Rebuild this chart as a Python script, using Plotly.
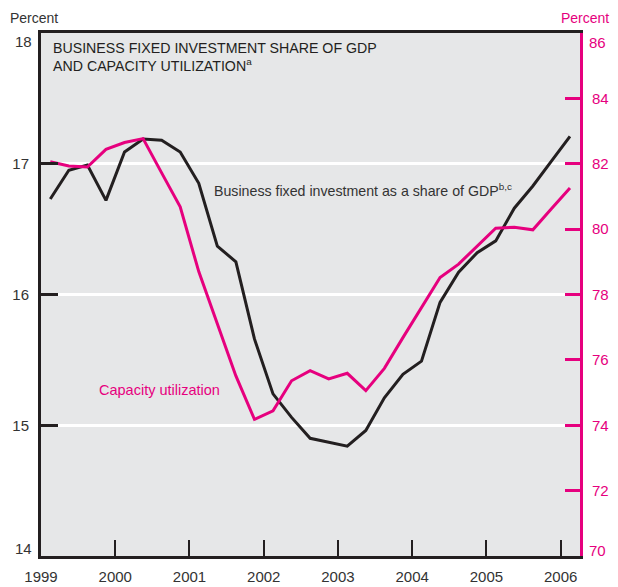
import plotly.graph_objects as go

quarters = ["1999Q1","1999Q2","1999Q3","1999Q4","2000Q1","2000Q2","2000Q3","2000Q4",
            "2001Q1","2001Q2","2001Q3","2001Q4","2002Q1","2002Q2","2002Q3","2002Q4",
            "2003Q1","2003Q2","2003Q3","2003Q4","2004Q1","2004Q2","2004Q3","2004Q4",
            "2005Q1","2005Q2","2005Q3","2005Q4","2006Q1"]
bfi_share = [16.73, 16.95, 16.99, 16.72, 17.09, 17.19, 17.18, 17.09,
             16.85, 16.37, 16.25, 15.66, 15.24, 15.06, 14.90, 14.87,
             14.84, 14.96, 15.21, 15.39, 15.49, 15.94, 16.17, 16.32,
             16.41, 16.66, 16.83, 17.02, 17.21]
capacity_util = [82.06, 81.93, 81.90, 82.44, 82.65, 82.77, 81.72, 80.68,
                 78.70, 77.08, 75.51, 74.18, 74.44, 75.36, 75.67, 75.42,
                 75.59, 75.06, 75.74, 76.68, 77.59, 78.52, 78.93, 79.49,
                 80.03, 80.06, 79.98, 80.62, 81.26]
year_ticks = [1999, 2000, 2001, 2002, 2003, 2004, 2005, 2006]
left_ticks = [14, 15, 16, 17, 18]
right_ticks = [70, 72, 74, 76, 78, 80, 82, 84, 86]

# quarter midpoints on a continuous year axis
xq = [int(q[:4]) + (int(q[-1]) - 0.5) / 4 for q in quarters]

DARK = "#231f20"
TXT = "#333333"
MAG = "#e6007e"
FONT = "Liberation Sans, Arial, sans-serif"

fig = go.Figure()
fig.add_trace(go.Scatter(x=xq, y=capacity_util, yaxis="y2", mode="lines",
                         line=dict(color=MAG, width=3), hoverinfo="skip"))
fig.add_trace(go.Scatter(x=xq, y=bfi_share, mode="lines",
                         line=dict(color=DARK, width=3), hoverinfo="skip"))

inner_left = left_ticks[1:-1]
inner_right = right_ticks[1:-1]

# page has an 8px body margin, so the figure is sized to end at the window edge
fig.update_layout(
    width=610, height=579,
    margin=dict(l=33, r=38, t=25, b=31, autoexpand=False),
    paper_bgcolor="white",
    plot_bgcolor="#e6e7e8",
    showlegend=False,
    xaxis=dict(range=[1999, 2006.26], tickvals=year_ticks,
               ticktext=[str(y) for y in year_ticks], automargin=False,
               ticks="inside", ticklen=16, tickwidth=2, tickcolor=DARK,
               showline=True, linewidth=3, linecolor=DARK, mirror=True,
               showgrid=False, zeroline=False,
               tickfont=dict(family=FONT, size=15, color=TXT),
               ticklabelstandoff=5),
    yaxis=dict(range=[14, 18], tickvals=inner_left, automargin=False,
               ticks="inside", ticklen=17, tickwidth=2.5, tickcolor=DARK,
               showline=True, linewidth=3, linecolor=DARK,
               showgrid=True, gridcolor="white", gridwidth=2.5,
               zeroline=False,
               tickfont=dict(family=FONT, size=15, color=TXT),
               ticklabelstandoff=6),
    yaxis2=dict(range=[70, 86], tickvals=inner_right, overlaying="y", side="right",
                automargin=False,
                ticks="inside", ticklen=15, tickwidth=2.5, tickcolor=MAG,
                showline=True, linewidth=3, linecolor=MAG,
                showgrid=False, zeroline=False,
                tickfont=dict(family=FONT, size=15, color=MAG),
                ticklabelstandoff=6),
)

# end labels of both value axes, nudged inside like the original
for v, shift in ((left_ticks[0], 8), (left_ticks[-1], -8)):
    fig.add_annotation(xref="paper", yref="y", x=0, y=v, xanchor="right",
                       yanchor="middle", xshift=-7, yshift=shift, showarrow=False,
                       text=str(v), font=dict(family=FONT, size=15, color=TXT))
for v, shift in ((right_ticks[0], 6), (right_ticks[-1], -9)):
    fig.add_annotation(xref="paper", yref="y2", x=1, y=v, xanchor="left",
                       yanchor="middle", xshift=7, yshift=shift, showarrow=False,
                       text=str(v), font=dict(family=FONT, size=15, color=MAG))

fig.add_annotation(xref="paper", yref="paper", x=-0.0612, y=1.0, yshift=15,
                   xanchor="left", yanchor="middle", showarrow=False,
                   text="Percent", font=dict(family=FONT, size=14, color=TXT))
fig.add_annotation(xref="paper", yref="paper", x=1.058, y=1.0, yshift=15,
                   xanchor="right", yanchor="middle", showarrow=False,
                   text="Percent", font=dict(family=FONT, size=14, color=MAG))
fig.add_annotation(xref="paper", yref="paper", x=0.018, y=1.0, yshift=-5,
                   xanchor="left", yanchor="top", showarrow=False, align="left",
                   text="BUSINESS FIXED INVESTMENT SHARE OF GDP<br>AND CAPACITY UTILIZATION<sup>a</sup>",
                   font=dict(family=FONT, size=14.2, color=DARK))
fig.add_annotation(x=2001.3, y=16.8, xanchor="left", yanchor="middle", showarrow=False,
                   text="Business fixed investment as a share of GDP<sup>b,c</sup>",
                   font=dict(family=FONT, size=14.2, color=TXT))
fig.add_annotation(x=1999.755, y=15.27, xanchor="left", yanchor="middle", showarrow=False,
                   text="Capacity utilization",
                   font=dict(family=FONT, size=14.5, color=MAG))

fig.write_html("out.html")
